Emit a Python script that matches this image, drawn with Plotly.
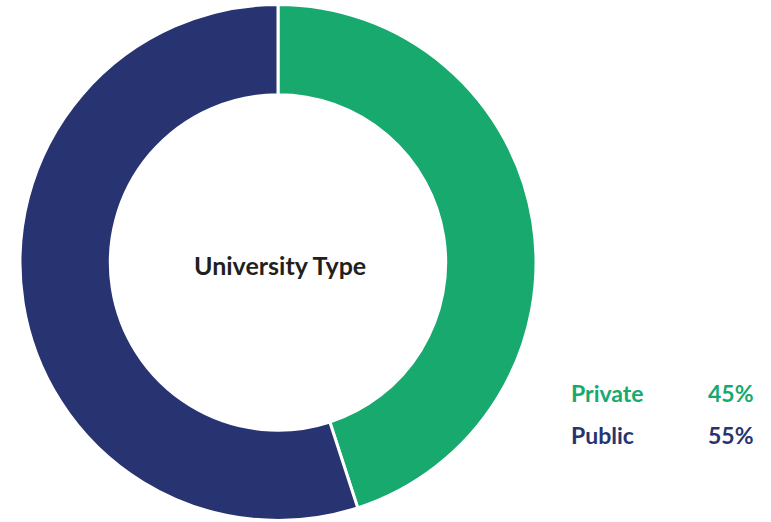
import plotly.graph_objects as go

# University type split
labels = ["Private", "Public"]
values = [45, 55]
colors = ["#17A96E", "#283371"]
center_title = "University Type"

W, H = 771, 522

fig = go.Figure(
    go.Pie(
        labels=labels,
        values=values,
        hole=0.65,
        sort=False,
        direction="clockwise",
        rotation=0,
        marker=dict(colors=colors, line=dict(color="white", width=3)),
        textinfo="none",
        hoverinfo="label+percent",
        showlegend=False,
        domain=dict(x=[20 / W, 536 / W], y=[1 / H, 518 / H]),
    )
)

font_family = "Lato, Open Sans, sans-serif"

# Centre label
fig.add_annotation(
    text=f"<b>{center_title}</b>",
    x=280 / W, y=1 - 265 / H, xref="paper", yref="paper",
    showarrow=False, font=dict(family=font_family, size=25, color="#231F20"),
    xanchor="center", yanchor="middle",
)

# Custom legend with percentages
total = sum(values)
rows_y = [393, 435]
for lab, val, col, ry in zip(labels, values, colors, rows_y):
    fig.add_annotation(
        text=f"<b>{lab}</b>", x=569 / W, y=1 - ry / H, xref="paper", yref="paper",
        showarrow=False, xanchor="left", yanchor="middle",
        font=dict(family=font_family, size=23, color=col),
    )
    fig.add_annotation(
        text=f"<b>{round(100 * val / total)}%</b>", x=756 / W, y=1 - ry / H,
        xref="paper", yref="paper", showarrow=False, xanchor="right", yanchor="middle",
        font=dict(family=font_family, size=23, color=col),
    )

fig.update_layout(
    width=W, height=H,
    margin=dict(l=0, r=0, t=0, b=0),
    paper_bgcolor="white", plot_bgcolor="white",
)

fig.write_html("out.html")
